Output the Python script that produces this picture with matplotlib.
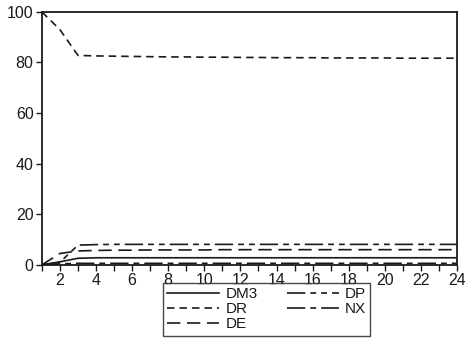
import matplotlib
matplotlib.use("Agg")
import matplotlib.pyplot as plt

plt.rcParams['font.family'] = ['Liberation Sans', 'DejaVu Sans']

periods = list(range(1, 25))

DR = [100.0, 93.0, 82.8, 82.6, 82.5, 82.4, 82.3, 82.2, 82.2, 82.1, 82.1, 82.0,
      82.0, 81.9, 81.9, 81.9, 81.8, 81.8, 81.8, 81.8, 81.7, 81.7, 81.7, 81.7]
DP = [0.0, 1.0, 7.8, 8.0, 8.1, 8.1, 8.1, 8.1, 8.1, 8.1, 8.1, 8.1,
      8.1, 8.1, 8.1, 8.1, 8.1, 8.1, 8.1, 8.1, 8.1, 8.1, 8.1, 8.1]
DE = [0.0, 4.5, 5.5, 5.7, 5.8, 5.8, 5.9, 5.9, 5.9, 5.9, 6.0, 6.0,
      6.0, 6.0, 6.0, 6.0, 6.0, 6.0, 6.0, 6.0, 6.0, 6.0, 6.0, 6.0]
DM3 = [0.0, 1.2, 2.6, 2.8, 2.8, 2.8, 2.8, 2.8, 2.8, 2.8, 2.8, 2.8,
       2.8, 2.8, 2.8, 2.8, 2.8, 2.8, 2.8, 2.8, 2.8, 2.8, 2.8, 2.8]
NX = [0.0, 0.4, 0.6, 0.6, 0.6, 0.6, 0.6, 0.6, 0.6, 0.6, 0.6, 0.6,
      0.6, 0.6, 0.6, 0.6, 0.6, 0.6, 0.6, 0.6, 0.6, 0.6, 0.6, 0.6]

x_labels = [str(v) for v in range(2, 25, 2)]
y_labels = [str(v) for v in range(0, 101, 20)]

fig = plt.figure(figsize=(4.65, 3.4), dpi=100)
ax = fig.add_axes([0.090, 0.221, 0.893, 0.744])

c = '#1a1a1a'
lw = 1.2
l_dm3, = ax.plot(periods, DM3, color=c, lw=lw, linestyle='-', label='DM3')
l_dp, = ax.plot(periods, DP, color=c, lw=lw, linestyle=(0, (11, 3, 3.5, 3, 3.5, 3)), label='DP')
l_dr, = ax.plot(periods, DR, color=c, lw=lw, linestyle=(0, (4.5, 3)), label='DR')
l_nx, = ax.plot(periods, NX, color=c, lw=lw, linestyle=(0, (11, 3, 3.5, 3)), label='NX')
l_de, = ax.plot(periods, DE, color=c, lw=lw, linestyle=(0, (8, 4)), label='DE')

ax.set_xlim(1, 24)
ax.set_ylim(0, 100)
ax.set_xticks(range(2, 25, 2))
ax.set_xticklabels(x_labels)
ax.set_xticks(range(1, 25), minor=True)
ax.set_yticks(range(0, 101, 20))
ax.set_yticklabels(y_labels)
ax.tick_params(axis='both', which='both', direction='out', length=4, width=1,
               labelsize=11.5, color=c, labelcolor=c, pad=2)
ax.tick_params(axis='x', which='minor', length=4)
for s in ax.spines.values():
    s.set_linewidth(1.3)
    s.set_color(c)

leg = fig.legend(handles=[l_dm3, l_dr, l_de, l_dp, l_nx], ncol=2,
                 loc='upper left', bbox_to_anchor=(0.35, 0.168),
                 fontsize=11, frameon=True, fancybox=False, edgecolor=c,
                 handlelength=3.4, handletextpad=0.4, columnspacing=1.9,
                 labelspacing=0.05, borderpad=0.3, borderaxespad=0)
leg.get_frame().set_linewidth(1.0)
for t in leg.get_texts():
    t.set_color(c)

fig.savefig('out.png', dpi=100)
